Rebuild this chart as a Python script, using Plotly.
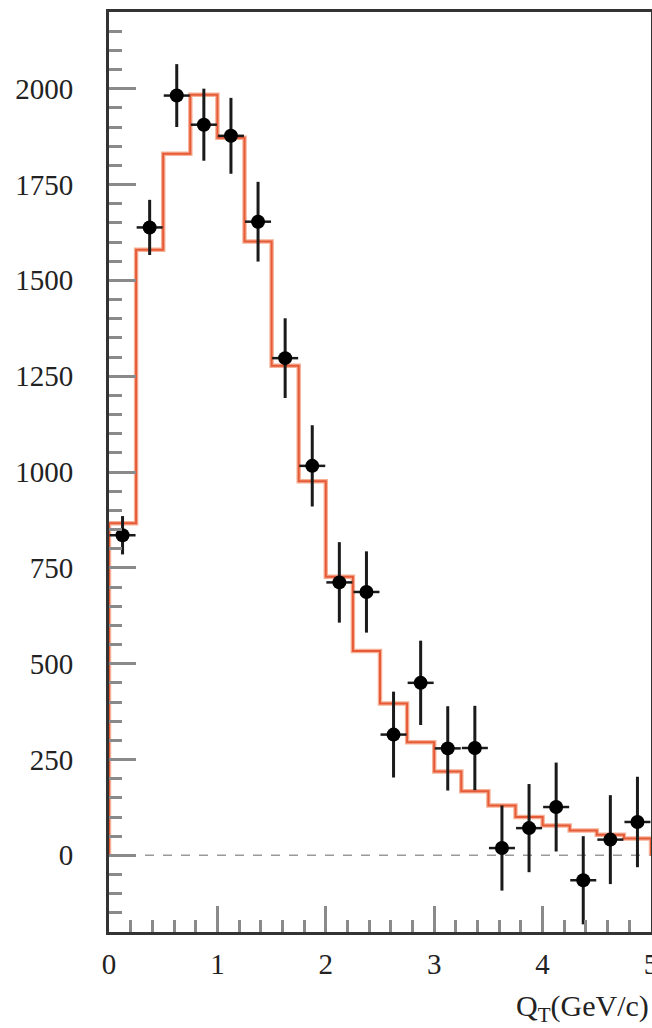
import numpy as np
import plotly.graph_objects as go

# Data points (bin centres, values, vertical errors)
qt_centers = [0.125, 0.375, 0.625, 0.875, 1.125, 1.375, 1.625, 1.875, 2.125, 2.375,
              2.625, 2.875, 3.125, 3.375, 3.625, 3.875, 4.125, 4.375, 4.625, 4.875]
counts = [835, 1638, 1982, 1906, 1877, 1653, 1297, 1016, 712, 687,
          315, 450, 279, 280, 19, 71, 126, -65, 41, 87]
count_err = [50, 72, 82, 94, 99, 104, 104, 106, 105, 106,
             112, 110, 110, 110, 111, 115, 116, 115, 116, 118]

# Histogram (step) values per bin
bin_lo = [0.0, 0.25, 0.5, 0.75, 1.0, 1.25, 1.5, 1.75, 2.0, 2.25,
          2.5, 2.75, 3.0, 3.25, 3.5, 3.75, 4.0, 4.25, 4.5, 4.75]
bin_hi_end = 5.0
hist_vals = [866, 1580, 1830, 1984, 1872, 1601, 1277, 976, 727, 533,
             396, 295, 219, 167, 130, 100, 78, 65, 54, 44]

x_ticks = [0, 1, 2, 3, 4, 5]
y_ticks = [0, 250, 500, 750, 1000, 1250, 1500, 1750, 2000]

step_x = [bin_lo[0]] + bin_lo + [bin_hi_end, bin_hi_end]
step_y = [0] + hist_vals + [hist_vals[-1], 0]

fig = go.Figure()

# zero reference line
fig.add_trace(go.Scatter(x=[bin_lo[0], bin_hi_end], y=[0, 0], mode="lines",
                         line=dict(color="#999999", width=1.5, dash="dash"),
                         hoverinfo="skip", showlegend=False))

# histogram: salmon halo + red line
fig.add_trace(go.Scatter(x=step_x, y=step_y, mode="lines", line_shape="hv",
                         line=dict(color="#f6b095", width=4.5),
                         showlegend=False))
fig.add_trace(go.Scatter(x=step_x, y=step_y, mode="lines", line_shape="hv",
                         line=dict(color="#e65a38", width=2),
                         showlegend=False))

# data points
fig.add_trace(go.Scatter(
    x=qt_centers, y=counts, mode="markers",
    marker=dict(color="black", size=14, symbol="circle"),
    error_y=dict(type="data", array=count_err, color="#1a1a1a", thickness=3, width=0),
    error_x=dict(type="constant", value=0.12, color="#1a1a1a", thickness=2.5, width=0),
    showlegend=False))

font_serif = "Liberation Serif, Times New Roman, serif"

fig.update_layout(
    width=652, height=1028,
    margin=dict(l=109, r=1, t=12, b=96, autoexpand=False),
    plot_bgcolor="white", paper_bgcolor="white",
    font=dict(family=font_serif, color="#222222"),
)

fig.update_xaxes(
    range=[0, 5], tickvals=x_ticks, ticktext=[str(v) for v in x_ticks],
    ticks="inside", ticklen=26, tickwidth=2.5, tickcolor="#8a8a8a",
    minor=dict(dtick=0.2, tick0=0, ticks="inside", ticklen=12, tickwidth=2.5, tickcolor="#8a8a8a"),
    showline=True, linecolor="#333333", linewidth=3, mirror=True,
    showgrid=False, zeroline=False, automargin=False,
    tickfont=dict(size=29, family=font_serif, color="#222222"),
    ticklabelstandoff=4, ticklabeloverflow="allow",
)
fig.update_yaxes(
    range=[-200, 2200], tickvals=y_ticks, ticktext=[str(v) for v in y_ticks],
    ticks="inside", ticklen=27, tickwidth=2.5, tickcolor="#8a8a8a",
    minor=dict(dtick=50, tick0=0, ticks="inside", ticklen=13, tickwidth=2.5, tickcolor="#8a8a8a"),
    showline=True, linecolor="#333333", linewidth=3, mirror=True,
    showgrid=False, zeroline=False, automargin=False,
    tickfont=dict(size=29, family=font_serif, color="#222222"),
    ticklabelstandoff=27,
)

fig.add_annotation(text="Q<sub>T</sub>(GeV/c)", xref="paper", yref="paper",
                   x=1.0, y=0, xanchor="right", yanchor="top", yshift=-55,
                   showarrow=False, font=dict(size=30, family=font_serif, color="#222222"))

fig.write_html("out.html")
